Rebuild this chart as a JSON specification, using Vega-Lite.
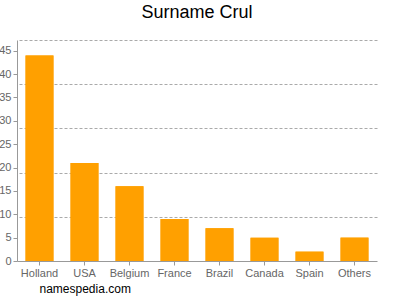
{
  "$schema": "https://vega.github.io/schema/vega-lite/v6.json",
  "autosize": "none",
  "width": 360,
  "height": 221,
  "padding": {"left": 17, "top": 40, "right": 23, "bottom": 39},
  "background": "white",
  "title": {
    "text": "Surname Crul",
    "fontSize": 18,
    "font": "Liberation Sans",
    "fontWeight": "normal",
    "color": "#000000",
    "offset": 18,
    "anchor": "middle"
  },
  "config": {
    "view": {"stroke": null},
    "axis": {
      "labelFont": "Liberation Sans",
      "labelFontSize": 11,
      "labelColor": "#666666",
      "domainColor": "#999999",
      "tickColor": "#999999",
      "tickSize": 4
    }
  },
  "data": {
    "values": [
      {"country": "Holland", "count": 44},
      {"country": "USA", "count": 21},
      {"country": "Belgium", "count": 16},
      {"country": "France", "count": 9},
      {"country": "Brazil", "count": 7},
      {"country": "Canada", "count": 5},
      {"country": "Spain", "count": 2},
      {"country": "Others", "count": 5}
    ]
  },
  "layer": [
    {
      "mark": {"type": "bar", "color": "#ffa000"},
      "encoding": {
        "x": {
          "field": "country",
          "type": "nominal",
          "sort": null,
          "scale": {"paddingInner": 0.38, "paddingOuter": 0.19},
          "axis": {
            "title": "namespedia.com",
            "titleFont": "Liberation Sans",
            "titleFontSize": 12,
            "titleFontWeight": "normal",
            "titleColor": "#000000",
            "titleAnchor": "start",
            "titleAlign": "left",
            "titleBaseline": "alphabetic",
            "titleX": 22,
            "titleY": 31,
            "labelAngle": 0,
            "labelPadding": 2,
            "grid": false
          }
        },
        "y": {
          "field": "count",
          "type": "quantitative",
          "scale": {"domain": [0, 47.3], "nice": false},
          "axis": {
            "title": null,
            "values": [0, 5, 10, 15, 20, 25, 30, 35, 40, 45],
            "grid": false,
            "labelPadding": 2
          }
        }
      }
    },
    {
      "mark": {"type": "bar", "color": "#ffa000"},
      "encoding": {
        "x": {"field": "country", "type": "nominal", "sort": null},
        "y": {
          "field": "count",
          "type": "quantitative",
          "axis": {
            "orient": "right",
            "title": null,
            "values": [9.46, 18.92, 28.38, 37.84, 47.3],
            "grid": true,
            "gridDash": [3, 2],
            "gridColor": "#aaaaaa",
            "gridWidth": 1,
            "labels": false,
            "ticks": false,
            "domain": false
          }
        }
      }
    }
  ],
  "resolve": {"axis": {"y": "independent"}}
}
